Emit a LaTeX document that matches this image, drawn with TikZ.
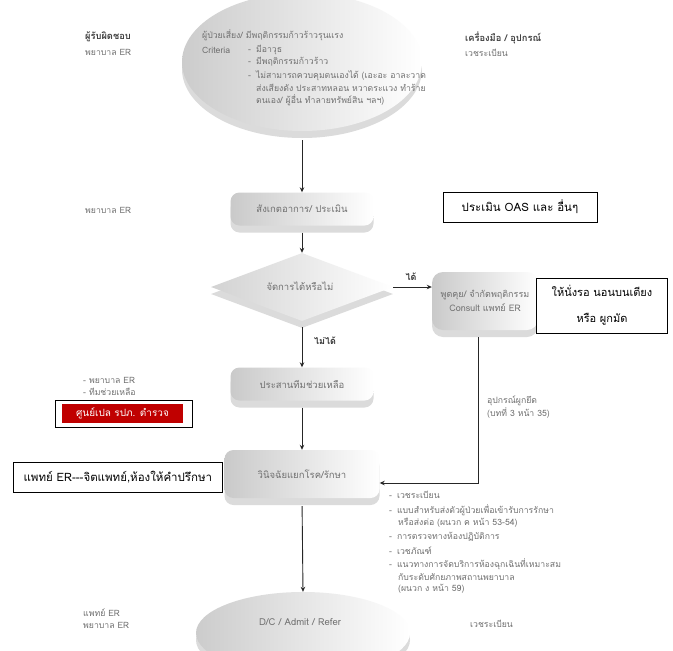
\documentclass[tikz,border=0pt]{standalone}
\usepackage{fontspec}
\setmainfont[Script=Thai]{Loma}
\usetikzlibrary{shapes.geometric,arrows.meta,shadows}
\definecolor{txt}{HTML}{707070}
\definecolor{redbox}{HTML}{C00000}
\begin{document}
\begin{tikzpicture}[x=1pt,y=-1pt,
  shad/.style={general shadow={shadow xshift=0pt,shadow yshift=-7pt,fill=gray!28,opacity=1}},
  flow/.style={shad,rounded corners=9pt,left color=gray!42,right color=white,draw=none,
     text=txt,font=\fontsize{9.5}{12}\selectfont,inner sep=2pt,align=center},
  ann/.style={draw=black,line width=0.7pt,fill=white,text=black,
     font=\fontsize{11.5}{14}\selectfont,align=center},
  lbl/.style={text=txt,font=\fontsize{8.7}{10}\selectfont,anchor=west,inner sep=0pt},
  hdr/.style={text=black!75,font=\fontsize{9.3}{11}\selectfont\bfseries,anchor=west,inner sep=0pt},
  arr/.style={draw=black!85,line width=0.9pt,-{Stealth[length=5pt,width=4.5pt]}},
  ln/.style={draw=black!60,line width=1pt}]
\useasboundingbox (0,0) rectangle (673,651);
\clip (0,0) rectangle (673,651);
\fill[white] (0,0) rectangle (673,651);

% top ellipse
\node[ellipse,shad,left color=gray!40,right color=white,minimum width=240,minimum height=138,inner sep=0] (top) at (302,62) {};
\node[lbl] (e1) at (202,35) {ผู้ป่วยเสี่ยง/ มีพฤติกรรมก้าวร้าวรุนแรง};
\node[lbl] (e2) at (202,50) {Criteria};
\node[lbl] (e3) at (248,50) {-\hspace{5pt}มีอาวุธ};
\node[lbl] (e4) at (248,62) {-\hspace{5pt}มีพฤติกรรมก้าวร้าว};
\node[lbl] (e5) at (248,76) {-\hspace{5pt}ไม่สามารถควบคุมตนเองได้ (เอะอะ อาละวาด};
\node[lbl] (e6) at (256,88) {ส่งเสียงดัง ประสาทหลอน หวาดระแวง ทำร้าย};
\node[lbl] (e7) at (256,100) {ตนเอง/ ผู้อื่น ทำลายทรัพย์สิน ฯลฯ)};

% headers
\node[hdr] (h1) at (85,37) {ผู้รับผิดชอบ};
\node[lbl] (h1a) at (85,52) {พยาบาล ER};
\node[hdr] (h2) at (465,38) {เครื่องมือ / อุปกรณ์};
\node[lbl] (h2a) at (465,53) {เวชระเบียน};

% box 1
\node[flow,minimum width=143,minimum height=33] (b1) at (302,209) {สังเกตอาการ/ ประเมิน};
\node[lbl] (l1) at (85,210) {พยาบาล ER};
\node[ann,minimum width=154,minimum height=30] (a1) at (520,207) {ประเมิน OAS และ อื่นๆ};

% diamond
\node[diamond,shad,left color=gray!35,right color=white,minimum width=182,minimum height=68,inner sep=0,aspect=2.7] (dia) at (302,287) {};
\node[text=txt,font=\fontsize{9.5}{12}\selectfont,inner sep=0] (diat) at (300,286) {จัดการได้หรือไม่};
\node[text=black!80,font=\fontsize{9}{10}\selectfont\bfseries,inner sep=0] (yes) at (411,277) {ได้};
\node[text=black!80,font=\fontsize{9}{10}\selectfont\bfseries,anchor=west,inner sep=0] (no) at (314,341) {ไม่ได้};

% box 2
\node[flow,minimum width=106,minimum height=58,rounded corners=11pt,font=\fontsize{9}{14}\selectfont] (b2) at (485,301) {พูดคุย/ จำกัดพฤติกรรม\\Consult แพทย์ ER};
\node[ann,minimum width=131,minimum height=55,font=\fontsize{11}{26}\selectfont] (a2) at (602,305.5) {ให้นั่งรอ นอนบนเตียง\\หรือ ผูกมัด};

% box 3
\node[flow,minimum width=143,minimum height=33] (b3) at (302,384) {ประสานทีมช่วยเหลือ};
\node[lbl] (l3a) at (83,380) {- พยาบาล ER};
\node[lbl] (l3b) at (83,392) {- ทีมช่วยเหลือ};
\node[draw=black,line width=0.7pt,minimum width=137,minimum height=27,inner sep=0] (rb) at (123.5,413.5) {};
\node[fill=redbox,text=white,minimum width=121,minimum height=19,inner sep=0,font=\fontsize{10}{12}\selectfont] (rbt) at (122.5,413.5) {ศูนย์เปล รปภ. ตำรวจ};

\node[lbl] (u1) at (487,401) {อุปกรณ์ผูกยึด};
\node[lbl] (u2) at (487,413) {(บทที่ 3 หน้า 35)};

% box 4
\node[flow,minimum width=155,minimum height=48] (b4) at (302,474) {วินิจฉัยแยกโรค/รักษา};
\node[ann,minimum width=209,minimum height=30,anchor=west] (a4) at (13,477) {แพทย์ ER-{}-{}-จิตแพทย์,ห้องให้คำปรึกษา};

% list
\node[lbl] (r1) at (389,495) {-\hspace{5pt}เวชระเบียน};
\node[lbl] (r2) at (389,510) {-\hspace{5pt}แบบสำหรับส่งตัวผู้ป่วยเพื่อเข้ารับการรักษา};
\node[lbl] (r3) at (398,523) {หรือส่งต่อ (ผนวก ค หน้า 53-54)};
\node[lbl] (r4) at (389,537) {-\hspace{5pt}การตรวจทางห้องปฏิบัติการ};
\node[lbl] (r5) at (389,551) {-\hspace{5pt}เวชภัณฑ์};
\node[lbl] (r6) at (389,564) {-\hspace{5pt}แนวทางการจัดบริการห้องฉุกเฉินที่เหมาะสม};
\node[lbl] (r7) at (398,577) {กับระดับศักยภาพสถานพยาบาล};
\node[lbl] (r8) at (398,589) {(ผนวก ง หน้า 59)};

% bottom ellipse
\node[ellipse,shad,left color=gray!40,right color=white,minimum width=214,minimum height=82,inner sep=0] (bot) at (303,633) {};
\node[text=txt,font=\fontsize{9.5}{12}\selectfont,inner sep=0] (bott) at (300,622) {D/C / Admit / Refer};
\node[lbl] (lb1) at (83,613) {แพทย์ ER};
\node[lbl] (lb2) at (83,625) {พยาบาล ER};
\node[lbl] (rb2) at (470,624) {เวชระเบียน};

% connectors
\draw[arr,shorten <=9pt] (top.south) -- (b1.north);
\draw[arr,shorten <=7pt] (b1.south) -- (dia.north);
\draw[arr] (dia.east) -- (dia.east -| b2.west);
\draw[arr,shorten <=6pt] (dia.south) -- (b3.north);
\draw[arr,shorten <=7pt] (b3.south) -- (b4.north);
\draw[arr,shorten <=8pt] (b4.south) -- (bot.north);
\coordinate (corner) at (478,483);
\draw[arr] ([yshift=-7pt]b2.south -| corner) -- (corner) -- (corner -| b4.east);
\end{tikzpicture}
\end{document}
